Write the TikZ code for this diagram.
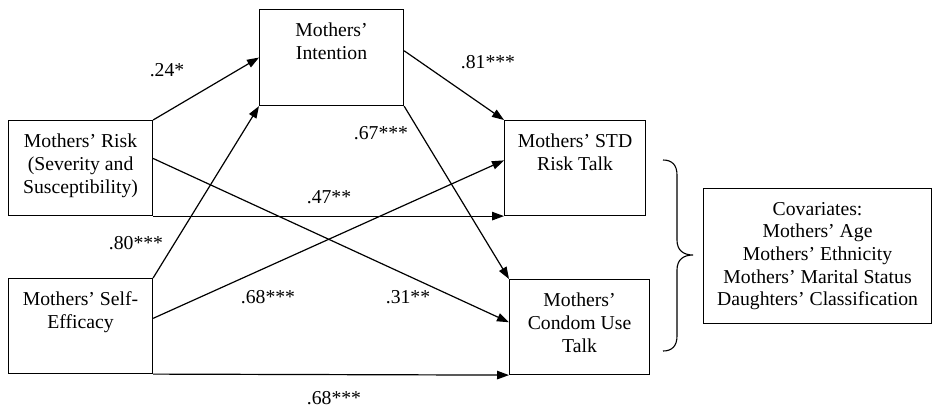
\documentclass[tikz,border=0pt]{standalone}
\usepackage{fontspec}
\setmainfont{Liberation Serif}
\usetikzlibrary{arrows.meta,calc}
\tikzset{
  vbox/.style={draw, line width=1.1pt, inner sep=0pt, anchor=north west, align=center},
  path/.style={line width=1.2pt, -{Triangle[length=12pt,width=8.5pt]}},
  lbl/.style={inner sep=0pt, font=\fontsize{19.7}{23}\selectfont}
}
\newcommand{\boxtext}[3]{\parbox[t][#2][t]{#1}{\centering\fontsize{19.7}{23.2}\selectfont\rule{0pt}{26.5pt}#3}}
\begin{document}
\begin{tikzpicture}[x=1pt,y=-1pt]
\useasboundingbox (0,0) rectangle (933,409);
\node[vbox] (risk) at (8,120) {\boxtext{144pt}{95pt}{Mothers’ Risk\\(Severity and\\Susceptibility)}};
\node[vbox] (self) at (8,278) {\boxtext{144pt}{95pt}{Mothers’ Self-\\Efficacy}};
\node[vbox] (int) at (259,9) {\boxtext{144pt}{96pt}{Mothers’\\Intention}};
\node[vbox] (std) at (504,120) {\boxtext{141pt}{95pt}{Mothers’ STD\\Risk Talk}};
\node[vbox] (cond) at (509,279) {\boxtext{140pt}{95pt}{Mothers’\\Condom Use\\Talk}};
\node[draw, line width=1.1pt, inner sep=0pt, minimum width=228pt, minimum height=135pt, align=center, anchor=north west, font=\fontsize{19.7}{22.6}\selectfont] (cov) at (703,188) {Covariates:\\Mothers’ Age\\Mothers’ Ethnicity\\Mothers’ Marital Status\\Daughters’ Classification};

\draw[path] (risk.north east) -- (int.west);
\draw[path] ($(risk.north east)!0.4!(risk.south east)$) -- ($(cond.north west)!0.45!(cond.south west)$);
\draw[path] (risk.south east) -- (std.south west);
\draw[path] (self.north east) -- (int.south west);
\draw[path] ($(self.north east)!0.42!(self.south east)$) -- ($(std.north west)!0.42!(std.south west)$);
\draw[path] (self.south east) -- (cond.south west);
\draw[path] ($(int.north east)!0.43!(int.south east)$) -- (std.north west);
\draw[path] (int.south east) -- (cond.north west);

\draw[line width=1.1pt] (663,160) .. controls (672,160) and (677,165) .. (677,175) -- (677,240) .. controls (677,250) and (683,255) .. (693,255) .. controls (683,255) and (677,260) .. (677,270) -- (677,336) .. controls (677,346) and (672,351) .. (663,351);

\node[lbl] (l1) at (167,70) {.24*};
\node[lbl] (l2) at (381,133) {.67***};
\node[lbl] (l3) at (329,197) {.47**};
\node[lbl] (l4) at (488,62) {.81***};
\node[lbl] (l5) at (136,243) {.80***};
\node[lbl] (l6) at (268,297) {.68***};
\node[lbl] (l7) at (408,297) {.31**};
\node[lbl] (l8) at (334,398) {.68***};
\end{tikzpicture}
\end{document}
